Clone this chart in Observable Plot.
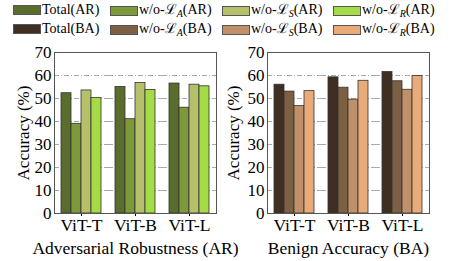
<!DOCTYPE html>
<html>
<head>
<meta charset="utf-8">
<script src="https://cdn.jsdelivr.net/npm/d3@7"></script>
<script src="https://cdn.jsdelivr.net/npm/@observablehq/plot@0.6"></script>
<style>
  html, body { margin: 0; padding: 0; background: #fff; }
  body { width: 457px; height: 261px; overflow: hidden; font-family: "Liberation Serif", serif; }
  #legend { position: relative; height: 44px; font-size: 14px; color: #000; }
  .item { position: absolute; display: flex; align-items: center; white-space: nowrap; line-height: 1; }
  .sw { width: 28px; height: 10px; border: 1px solid #555; box-sizing: border-box; margin-right: 1px; }
  sub { font-size: 10px; font-style: italic; vertical-align: -3px; }
  #charts { display: flex; }
  #charts svg { overflow: visible; }
  #charts text { font-family: "Liberation Serif", serif; }
</style>
</head>
<body>
<div id="legend"></div>
<div id="charts"><div id="left"></div><div id="right"></div></div>
<script>
const models = ["ViT-T", "ViT-B", "ViT-L"];
const variants = ["Total", "w/o-A", "w/o-S", "w/o-R"];
const variantSubs = ["", "A", "S", "R"];
const arValues = [
  [52.3, 39.0, 53.5, 50.2],
  [55.0, 41.0, 56.7, 53.7],
  [56.5, 46.0, 56.0, 55.3]
];
const baValues = [
  [56.0, 53.0, 46.7, 53.2],
  [59.2, 54.7, 49.5, 57.7],
  [61.5, 57.5, 53.8, 59.8]
];
const arColors = ["#5a6d2c", "#7e993b", "#b6c06a", "#a6db48"];
const baColors = ["#3e2f22", "#7d5f43", "#c0906a", "#e8ab79"];
const yTicks = [0, 10, 20, 30, 40, 50, 60, 70];
const gridTicks = [10, 20, 30, 40, 50, 60];

// Legend
const legend = document.getElementById("legend");
const legendX = [13, 110, 222, 333];
[["AR", arColors, 10], ["BA", baColors, 29]].forEach(([tag, colors, cy]) => {
  variants.forEach((v, i) => {
    const it = document.createElement("div");
    it.className = "item";
    it.style.left = legendX[i] + "px";
    it.style.top = (cy - 7) + "px";
    const label = i === 0 ? `Total(${tag})` : `w/o-ℒ<sub>${variantSubs[i]}</sub>(${tag})`;
    it.innerHTML = `<span class="sw" style="background:${colors[i]}"></span><span>${label}</span>`;
    legend.appendChild(it);
  });
});

function makeChart(values, colors, title, marginLeft, marginRight, width, labelOffset) {
  const data = [];
  models.forEach((m, mi) => variants.forEach((v, vi) => data.push({model: m, variant: v, value: values[mi][vi]})));
  return Plot.plot({
    width, height: 217,
    marginLeft, marginRight, marginTop: 8, marginBottom: 48,
    style: "font-family: 'Liberation Serif', serif; font-size: 17px; color: #000; background: transparent; overflow: visible;",
    fx: {domain: models, padding: 0, label: null},
    x: {domain: variants, paddingInner: 0, paddingOuter: 0.6, axis: null},
    y: {domain: [0, 70], axis: null},
    color: {domain: variants, range: colors},
    marks: [
      Plot.gridY(gridTicks, {stroke: "#aaa", strokeOpacity: 1, strokeWidth: 1, strokeDasharray: "5,2,1,2"}),
      Plot.barY(data, {fx: "model", x: "variant", y: "value", fill: "variant", stroke: "#333", strokeWidth: 0.8}),
      Plot.axisY(yTicks, {tickSize: 0, tickPadding: 3, fontSize: 17,
        label: "Accuracy (%)", labelAnchor: "center", labelOffset, labelArrow: "none"}),
      Plot.axisFx({anchor: "bottom", tickSize: 3, tickPadding: 2, fontSize: 17.5,
        label: title, labelAnchor: "center", labelOffset: 40, labelArrow: "none"}),
      Plot.frame({facet: "super", stroke: "#555", strokeWidth: 1})
    ]
  });
}

document.getElementById("left").appendChild(makeChart(arValues, arColors, "Adversarial Robustness (AR)", 53, 11, 228, 38));
document.getElementById("right").appendChild(makeChart(baValues, baColors, "Benign Accuracy (BA)", 38, 28, 229, 41));
</script>
</body>
</html>
